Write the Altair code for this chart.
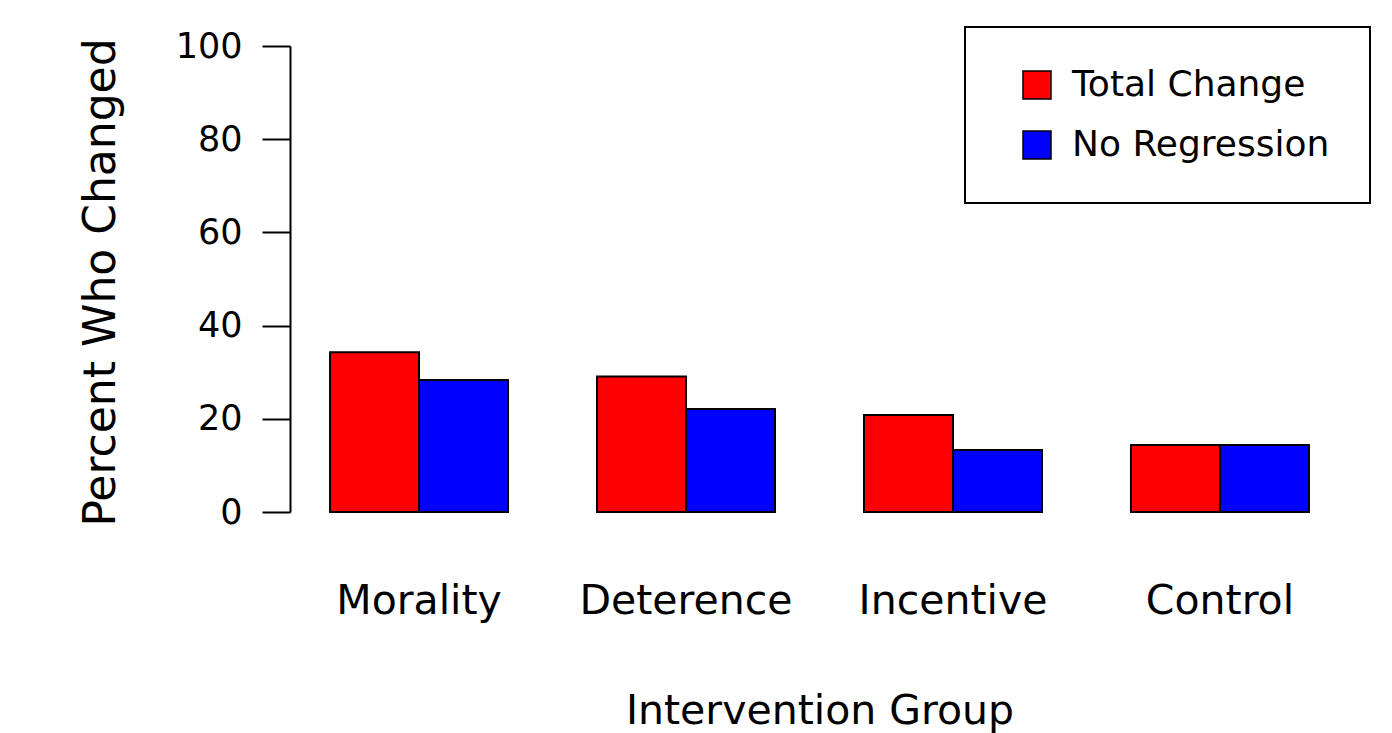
import altair as alt
import pandas as pd

groups = ["Morality", "Deterence", "Incentive", "Control"]
series = ["Total Change", "No Regression"]
total_change = [34.3, 29.1, 20.8, 14.4]
no_regression = [28.3, 22.1, 13.3, 14.4]
y_ticks = [0, 20, 40, 60, 80, 100]
colors = ["#FF0000", "#0000FF"]

rows = []
for g, t, n in zip(groups, total_change, no_regression):
    rows.append({"group": g, "series": series[0], "value": t})
    rows.append({"group": g, "series": series[1], "value": n})
df = pd.DataFrame(rows)

FONT = "DejaVu Sans"

chart = alt.Chart(df).mark_bar(stroke="black", strokeWidth=2).encode(
    x=alt.X("group:N", sort=groups,
            scale=alt.Scale(paddingInner=1/3, paddingOuter=0.15),
            axis=alt.Axis(title="Intervention Group", domain=False, ticks=False, tickSize=0,
                          labelAngle=0, labelFontSize=41, labelFont=FONT, labelColor="black",
                          labelBaseline="alphabetic", labelPadding=101, labelLimit=400,
                          titleFontSize=41, titleFont=FONT, titleFontWeight="normal",
                          titleColor="black", titleBaseline="alphabetic", titleY=211)),
    xOffset=alt.XOffset("series:N", sort=series,
                        scale=alt.Scale(paddingInner=0, paddingOuter=0)),
    y=alt.Y("value:Q", scale=alt.Scale(domain=[0, 100], nice=False),
            axis=alt.Axis(title="Percent Who Changed", values=y_ticks, grid=False,
                          domainColor="black", domainWidth=2, tickColor="black", tickWidth=2,
                          tickSize=28, labelPadding=20, labelFontSize=35, labelFont=FONT,
                          labelColor="black",
                          titleFontSize=44, titleFont=FONT, titleFontWeight="normal",
                          titleColor="black", titleAngle=270, titleBaseline="alphabetic",
                          titleAlign="center", titleX=-176, titleY=236, titleLimit=800)),
    color=alt.Color("series:N", sort=series,
                    scale=alt.Scale(domain=series, range=colors),
                    legend=alt.Legend(title=None, orient="none", legendX=675, legendY=-19,
                                      symbolType="square", symbolSize=784,
                                      symbolStrokeColor="black", symbolStrokeWidth=1.5,
                                      symbolOpacity=1, symbolOffset=14, labelOffset=17,
                                      labelFontSize=36, labelFont=FONT, labelColor="black",
                                      labelLimit=400,
                                      padding=40, rowPadding=24, strokeColor="black",
                                      fillColor="white")),
).properties(
    width=1059,
    height=466,
    padding={"left": 290, "top": 46, "right": 43, "bottom": 221},
    autosize=alt.AutoSizeParams(type="none"),
    background="white",
).configure_view(stroke=None).configure_legend(strokeWidth=2)

chart.save("out.html", embed_options={"renderer": "svg", "actions": False})
